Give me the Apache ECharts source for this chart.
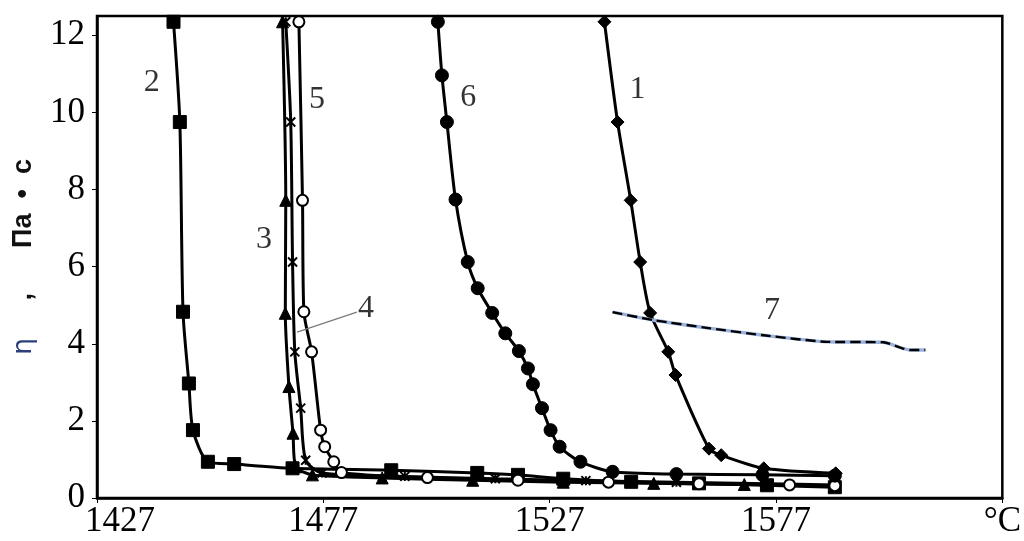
<!DOCTYPE html>
<html>
<head>
<meta charset="utf-8">
<script src="https://cdn.jsdelivr.net/npm/echarts@6/dist/echarts.min.js"></script>
<style>
html,body{margin:0;padding:0;background:#fff;}
#chart{width:1024px;height:541px;}
</style>
</head>
<body>
<div id="chart"></div>
<script>
// ---- data (temperature °C, viscosity Pa·s) ----
const curve1 = [[1539.1,12.35],[1542.0,9.75],[1544.9,7.72],[1547.0,6.12],[1549.2,4.80],[1553.2,3.79],[1554.8,3.19],[1562.2,1.28],[1564.9,1.11],[1574.3,0.77],[1590.2,0.64]];
const curve2 = [[1443.9,12.35],[1445.3,9.75],[1446.0,4.83],[1447.3,2.97],[1448.2,1.76],[1451.5,0.94],[1457.3,0.88],[1470.2,0.77],[1492.0,0.72],[1511.0,0.65],[1520.0,0.60],[1530.0,0.50],[1545.0,0.42],[1560.0,0.38],[1575.0,0.33],[1590.0,0.28]];
const curve3 = [[1468.0,12.35],[1468.7,7.72],[1468.6,4.79],[1469.4,2.89],[1470.3,1.68],[1470.9,0.81],[1474.6,0.60],[1490.0,0.52],[1510.0,0.46],[1530.0,0.41],[1550.0,0.38],[1570.0,0.35],[1590.0,0.31]];
const curve4 = [[1468.7,12.35],[1469.8,9.75],[1470.2,6.12],[1470.7,3.79],[1472.0,2.33],[1473.1,0.98],[1476.7,0.65],[1495.0,0.56],[1515.0,0.50],[1535.0,0.45],[1555.0,0.41],[1575.0,0.37],[1590.0,0.34]];
const curve5 = [[1471.6,12.35],[1472.4,7.72],[1472.7,4.83],[1474.4,3.79],[1476.4,1.76],[1477.3,1.33],[1479.3,0.94],[1481.0,0.66],[1500.0,0.53],[1520.0,0.46],[1540.0,0.41],[1560.0,0.37],[1580.0,0.34],[1590.0,0.32]];
const curve6 = [[1502.3,12.35],[1503.2,10.96],[1504.3,9.75],[1506.2,7.74],[1508.9,6.12],[1511.1,5.44],[1514.3,4.80],[1517.2,4.27],[1520.2,3.81],[1522.2,3.36],[1523.3,2.95],[1525.3,2.33],[1527.2,1.76],[1529.2,1.33],[1533.8,0.94],[1540.9,0.68],[1555.0,0.62],[1574.0,0.60],[1590.0,0.58]];
const curve7 = [[1540.9,4.82],[1550.1,4.61],[1562.5,4.40],[1574.3,4.22],[1588.2,4.05],[1600.7,4.04],[1606.5,3.84],[1610.0,3.84]];
const curveLabels = [
  {name:'1', value:[1546.4,10.58]},
  {name:'2', value:[1439.1,10.78]},
  {name:'3', value:[1463.9,6.69]},
  {name:'4', value:[1486.4,4.92]},
  {name:'5', value:[1475.6,10.32]},
  {name:'6', value:[1509.0,10.39]},
  {name:'7', value:[1576.1,4.87]}
];
const leader4 = [[1471.2,4.30],[1484.4,4.82]];
const xMin = 1427, xMax = 1627, xStep = 50;
const yMin = 0, yMax = 12.5, yStep = 2;
const xUnitLabel = '°C';
const yTitleParts = ['η', '     ,      Па  •  с'];

const chart = echarts.init(document.getElementById('chart'), null, {renderer:'canvas'});
const serif = 'Liberation Serif';
function lineSeries(data, symbol, size, extra) {
  return Object.assign({
    type:'line', data:data, symbol:symbol, symbolSize:size, smooth:0.25,
    lineStyle:{color:'#000', width:3},
    itemStyle:{color:'#000', borderColor:'#000', borderWidth:1},
    z:3, animation:false
  }, extra||{});
}
const option = {
  animation:false,
  backgroundColor:'#fff',
  grid:{left:97, right:17, top:16, bottom:43, show:true, borderColor:'#000', borderWidth:2.5, backgroundColor:'transparent'},
  xAxis:{
    type:'value', min:xMin, max:xMax, interval:xStep,
    axisLine:{lineStyle:{color:'#000', width:2.5}},
    axisTick:{show:true, length:5, lineStyle:{color:'#000', width:1}},
    splitLine:{show:false},
    axisLabel:{color:'#000', fontFamily:serif, fontSize:35, margin:6,
      formatter:function(v){
        if (v===xMax) return xUnitLabel;
        if (v===xMin) return '{first|'+v+'}';
        return String(v);
      },
      rich:{first:{fontFamily:serif, fontSize:35, color:'#000', padding:[0,0,0,46]}}}
  },
  yAxis:{
    type:'value', min:yMin, max:yMax, interval:yStep,
    axisLine:{lineStyle:{color:'#000', width:2.5}},
    axisTick:{show:true, length:5, lineStyle:{color:'#000', width:1}},
    splitLine:{show:false},
    axisLabel:{color:'#000', fontFamily:serif, fontSize:35, margin:12, showMaxLabel:false},
    name:'{eta|'+yTitleParts[0]+'}{rest|'+yTitleParts[1]+'}',
    nameLocation:'middle', nameRotate:90, nameGap:60,
    nameTextStyle:{rich:{
      eta:{fontFamily:'DejaVu Sans', fontSize:27, color:'#2a3f7a'},
      rest:{fontFamily:'Liberation Sans', fontSize:27, color:'#111', fontWeight:'bold'}
    }}
  },
  series:[
    lineSeries(curve2, 'rect', 13),
    lineSeries(curve3, 'triangle', 12),
    lineSeries(curve4, 'path://M0,0L10,10M10,0L0,10M5,0L5,10', 9, {itemStyle:{color:'#000', borderColor:'#000', borderWidth:2}}),
    lineSeries(curve5, 'emptyCircle', 11, {itemStyle:{color:'#000', borderWidth:2.2}}),
    lineSeries(curve6, 'circle', 13),
    lineSeries(curve1, 'diamond', 13),
    {type:'line', data:curve7, symbol:'none', smooth:0.2, lineStyle:{color:'#9bb3dc', width:3.4}, z:4},
    {type:'line', data:curve7, symbol:'none', smooth:0.2, lineStyle:{color:'#000', width:2.4, type:[10,5]}, z:5,
      markLine:{silent:true, symbol:'none', label:{show:false}, lineStyle:{color:'#7a7a7a', width:1.2, type:'solid'},
        data:[[{coord:leader4[0]},{coord:leader4[1]}]]}},
    {type:'scatter', data:curveLabels, symbolSize:0, z:6,
      label:{show:true, position:'inside', formatter:'{b}', fontFamily:serif, fontSize:32, color:'#000'}}
  ]
};
chart.setOption(option);
</script>
</body>
</html>
